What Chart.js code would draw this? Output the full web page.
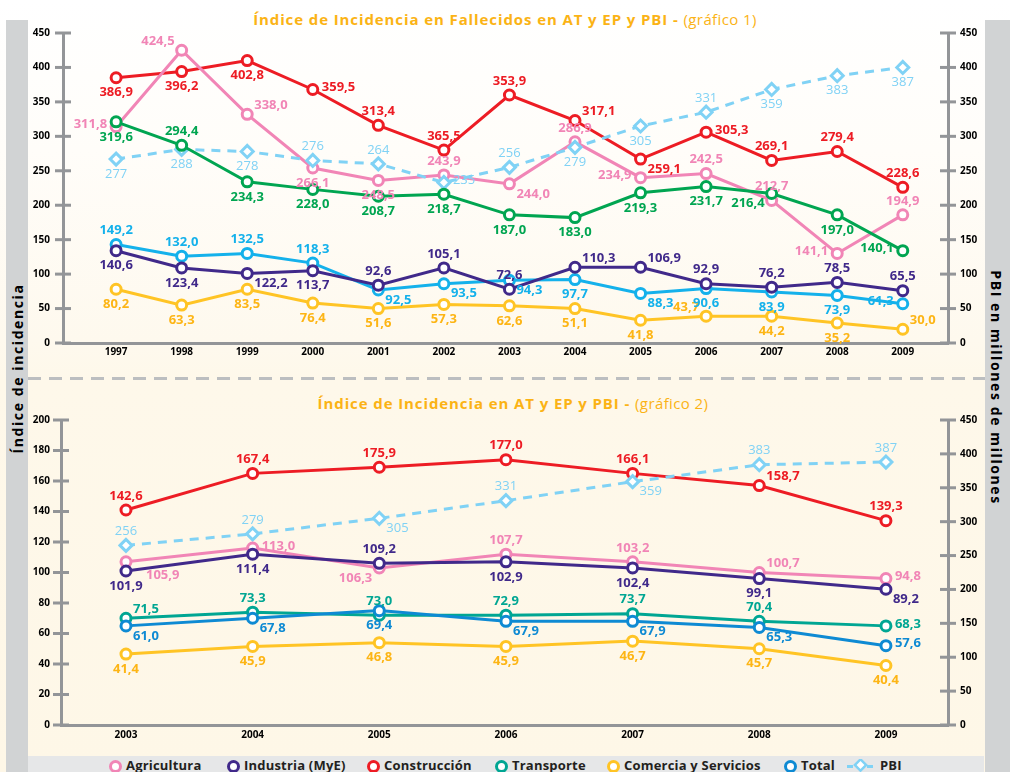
<!DOCTYPE html>
<html>
<head>
<meta charset="utf-8">
<script src="https://cdn.jsdelivr.net/npm/chart.js@4"></script>
<style>
  body { margin: 0; background: #fff; font-family: "Open Sans", sans-serif; }
  #wrap { position: relative; width: 1010px; height: 772px; overflow: hidden;
    background: linear-gradient(#ffffff 0px, #fffdf9 150px, #fef9ee 340px, #fef8ea 380px, #fef7e7 772px); }
  .band { position: absolute; top: 20px; bottom: 0; background: #d1d3d4; }
  .vlabel { position: absolute; white-space: nowrap; font-weight: 700; font-size: 14px;
    letter-spacing: 1.6px; color: #000; transform-origin: center; }
  .title { position: absolute; left: 0; width: 1010px; text-align: center; color: #fbb315;
    font-size: 15px; font-weight: 700; letter-spacing: 0.9px; white-space: nowrap; }
  .title span { font-weight: 400; letter-spacing: 0.4px; }
  #sep { position: absolute; left: 28px; width: 957px; top: 377px; height: 3px;
    background: repeating-linear-gradient(90deg, #bcbec0 0px, #bcbec0 13px, transparent 13px, transparent 21px); }
  #legend { position: absolute; left: 28px; width: 956px; top: 756px; height: 16px; background: #e6e7e8; }
  .li { position: absolute; top: 757px; font-size: 13px; font-weight: 700; color: #231f20;
    letter-spacing: 0.2px; line-height: 16px; white-space: nowrap; }
  .ring { position: absolute; top: 760px; width: 7px; height: 7px; border: 3px solid; border-radius: 50%; background: #fff; }
  canvas { position: absolute; left: 0; }
</style>
</head>
<body>
<div id="wrap">
  <div class="band" style="left:6px;width:22px"></div>
  <div class="band" style="left:985px;width:25px"></div>
  <div class="vlabel" id="vl">Índice de incidencia</div>
  <div class="vlabel" id="vr">PBI en millones de millones</div>
  <div class="title" style="top:9px">Índice de Incidencia en Fallecidos en AT y EP y PBI - <span>(gráfico 1)</span></div>
  <div id="sep"></div>
  <div class="title" style="top:393px;left:8px">Índice de Incidencia en AT y EP y PBI - <span>(gráfico 2)</span></div>
  <canvas id="top" width="1010" height="372" style="top:0"></canvas>
  <canvas id="bottom" width="1010" height="375" style="top:380px"></canvas>
  <div id="legend"></div>
</div>
<script>
// ---- data: gráfico 1 (fallecidos) ----
const yearsTop = [1997, 1998, 1999, 2000, 2001, 2002, 2003, 2004, 2005, 2006, 2007, 2008, 2009];
const ticksTopLeft = [0, 50, 100, 150, 200, 250, 300, 350, 400, 450];
const ticksTopRight = [0, 50, 100, 150, 200, 250, 300, 350, 400, 450];

const agriTop  = [314, 425, 332, 254, 236, 244, 231, 292, 240, 246, 207, 130, 186];
const indTop   = [134, 109, 101, 105, 84, 109, 78, 110, 110, 86, 81, 88, 76];
const consTop  = [385, 394, 410, 368, 316, 280, 360, 323, 267, 306, 265, 278, 226];
const transTop = [321, 287, 234, 223, 213, 216, 186, 182, 218, 227, 217, 186, 134];
const comTop   = [78, 55, 78, 58, 50, 56, 54, 50, 33, 39, 39, 29, 20];
const totalTop = [143, 126, 130, 116, 77, 86, 91, 92, 72, 79, 74, 69, 57];
const pbiTop   = [267, 281, 278, 265, 260, 233, 255, 284, 315, 335, 368, 388, 400];

// printed value labels (as they appear in the figure)
const agriTopTxt  = ['311,8','424,5','338,0','266,1','248,5','243,9','244,0','286,9','234,9','242,5','212,7','141,1','194,9'];
const indTopTxt   = ['140,6','123,4','122,2','113,7','92,6','105,1','72,6','110,3','106,9','92,9','76,2','78,5','65,5'];
const consTopTxt  = ['386,9','396,2','402,8','359,5','313,4','365,5','353,9','317,1','259,1','305,3','269,1','279,4','228,6'];
const transTopTxt = ['319,6','294,4','234,3','228,0','208,7','218,7','187,0','183,0','219,3','231,7','216,4','197,0','140,1'];
const comTopTxt   = ['80,2','63,3','83,5','76,4','51,6','57,3','62,6','51,1','41,8','43,7','44,2','35,2','30,0'];
const totalTopTxt = ['149,2','132,0','132,5','118,3','92,5','93,5','94,3','97,7','88,3','90,6','83,9','73,9','61,3'];
const pbiTopTxt   = ['277','288','278','276','264','235','256','279','305','331','359','383','387'];

// ---- data: gráfico 2 ----
const yearsBottom = [2003, 2004, 2005, 2006, 2007, 2008, 2009];
const ticksBottomLeft = [0, 20, 40, 60, 80, 100, 120, 140, 160, 180, 200];
const ticksBottomRight = [0, 50, 100, 150, 200, 250, 300, 350, 400, 450];

const agriBot  = [107, 116, 103, 112, 107, 100, 96];
const indBot   = [101, 112, 106, 107, 103, 96, 89];
const consBot  = [141, 165, 169, 174, 165, 157, 134];
const transBot = [70, 74, 72, 72, 73, 68, 65];
const comBot   = [46.5, 51.5, 54, 51.5, 55, 50, 39];
const totalBot = [65, 70, 75, 68, 68, 64, 52];
const pbiBot   = [265, 282, 305, 331, 359, 384, 388];

const agriBotTxt  = ['105,9','113,0','106,3','107,7','103,2','100,7','94,8'];
const indBotTxt   = ['101,9','111,4','109,2','102,9','102,4','99,1','89,2'];
const consBotTxt  = ['142,6','167,4','175,9','177,0','166,1','158,7','139,3'];
const transBotTxt = ['71,5','73,3','73,0','72,9','73,7','70,4','68,3'];
const comBotTxt   = ['41,4','45,9','46,8','45,9','46,7','45,7','40,4'];
const totalBotTxt = ['61,0','67,8','69,4','67,9','67,9','65,3','57,6'];
const pbiBotTxt   = ['256','279','305','331','359','383','387'];

// where each printed label sits around its point
const OFF = {
  T: [0, -14, 'center'], B: [0, 15, 'center'], L: [-9, -2, 'right'], R: [9, -2, 'left'],
  TR: [7, -9, 'left'], TL: [-7, -9, 'right'], BR: [7, 10, 'left'], BL: [-7, 10, 'right'],
  BRR: [20, 13, 'left']
};
const place = s => s.split(' ');

const AXIS = '#939598';
const FONT = '"Open Sans", sans-serif';
const C = {
  agri: '#f185b6', ind: '#40298a', cons: '#ed1c24', transTop: '#00a551', transBot: '#00a693',
  com: '#ffc425', comTxt: '#fdb515', totalTop: '#14b1eb', totalBot: '#0e8ad3', pbi: '#80d2f5'
};

const pts = (xs, ys) => xs.map((x, i) => ({ x: x, y: ys[i] }));

function line(years, vals, color, texts, pos, extra) {
  return Object.assign({
    data: pts(years, vals), borderColor: color, pointBorderColor: color,
    pointBackgroundColor: '#fff', borderWidth: 3, pointRadius: 5, pointBorderWidth: 3,
    tension: 0, clip: false, texts: texts, place: place(pos), textColor: color
  }, extra || {});
}

const valueLabels = {
  id: 'valueLabels',
  afterDatasetsDraw(chart) {
    const ctx = chart.ctx;
    chart.data.datasets.forEach((ds, di) => {
      if (!ds.texts) return;
      const meta = chart.getDatasetMeta(di);
      ctx.save();
      ctx.font = (ds.light ? '400 ' : '700 ') + '13px ' + FONT;
      ctx.fillStyle = ds.textColor;
      ctx.textBaseline = 'middle';
      meta.data.forEach((p, i) => {
        const o = OFF[ds.place[i]];
        ctx.textAlign = o[2];
        ctx.fillText(ds.texts[i], p.x + o[0], p.y + o[1]);
      });
      ctx.restore();
    });
  }
};

// tick stubs crossing the vertical axes
const crossTicks = {
  id: 'crossTicks',
  beforeDatasetsDraw(chart) {
    const ctx = chart.ctx, a = chart.chartArea;
    ctx.save();
    ctx.strokeStyle = AXIS;
    ctx.lineWidth = 3;
    ['y', 'y2'].forEach(id => {
      const s = chart.scales[id];
      const x = id === 'y' ? a.left : a.right;
      s.ticks.forEach(t => {
        const y = s.getPixelForValue(t.value);
        ctx.beginPath();
        ctx.moveTo(x - 8, y);
        ctx.lineTo(x + 8, y);
        ctx.stroke();
      });
    });
    ctx.restore();
  }
};

function makeChart(id, o) {
  const tickFont = { family: FONT, size: 10, weight: '700' };
  return new Chart(document.getElementById(id), {
    type: 'line',
    data: { datasets: o.datasets },
    options: {
      responsive: false,
      animation: false,
      layout: { padding: { top: o.padTop, left: 0, right: 0, bottom: 0 } },
      plugins: { legend: { display: false }, tooltip: { enabled: false } },
      scales: {
        x: {
          type: 'linear', min: o.xMin, max: o.xMax,
          grid: { display: false, drawTicks: false },
          border: { color: AXIS, width: 3 },
          ticks: { padding: o.xPad, color: '#000', font: { family: FONT, size: 10, weight: '700' },
                   callback: v => String(v) },
          afterBuildTicks: s => { s.ticks = o.years.map(v => ({ value: v })); },
          afterFit: s => { s.height = o.xH; }
        },
        y: {
          position: 'left', min: 0, max: o.yMax,
          grid: { display: false, drawTicks: false },
          border: { color: AXIS, width: 3 },
          ticks: { padding: o.yPad, color: '#000', font: tickFont },
          afterBuildTicks: s => { s.ticks = o.yTicks.map(v => ({ value: v })); },
          afterFit: s => { s.width = o.yW; }
        },
        y2: {
          position: 'right', min: 0, max: 450,
          grid: { display: false, drawTicks: false },
          border: { color: AXIS, width: 3 },
          ticks: { padding: 12, color: '#000', font: tickFont },
          afterBuildTicks: s => { s.ticks = o.y2Ticks.map(v => ({ value: v })); },
          afterFit: s => { s.width = o.y2W; }
        }
      }
    },
    plugins: [crossTicks, valueLabels]
  });
}

const pbiStyle = { yAxisID: 'y2', borderDash: [9, 7], pointStyle: 'rectRot', pointRadius: 6, light: true };

makeChart('top', {
  padTop: 33, xMin: 1996.19, xMax: 2009.69, xPad: 3, xH: 29, yW: 63, y2W: 62, yPad: 13, yMax: 450,
  years: yearsTop, yTicks: ticksTopLeft, y2Ticks: ticksTopRight,
  datasets: [
    line(yearsTop, comTop, C.com, comTopTxt, 'B B B B B B B B B TL B B TR', { textColor: C.comTxt }),
    line(yearsTop, indTop, C.ind, indTopTxt, 'B B BR B T T T TR TR T T T T'),
    line(yearsTop, totalTop, C.totalTop, totalTopTxt, 'T T T T BR BR BR B BR B B B L'),
    line(yearsTop, transTop, C.transTop, transTopTxt, 'B T B B B B B B B B BL B L'),
    line(yearsTop, pbiTop, C.pbi, pbiTopTxt, 'B B B T T R T B B T B B B', pbiStyle),
    line(yearsTop, agriTop, C.agri, agriTopTxt, 'L TL TR B B T BR T L T T L T'),
    line(yearsTop, consTop, C.cons, consTopTxt, 'B B B R T T T TR BR R T T T')
  ]
});

makeChart('bottom', {
  padTop: 40, xMin: 2002.487, xMax: 2009.49, xPad: 4, xH: 30, yW: 61, y2W: 62, yPad: 11, yMax: 200,
  years: yearsBottom, yTicks: ticksBottomLeft, y2Ticks: ticksBottomRight,
  datasets: [
    line(yearsBottom, comBot, C.com, comBotTxt, 'B B B B B B B', { textColor: C.comTxt }),
    line(yearsBottom, totalBot, C.totalBot, totalBotTxt, 'BR BR B BR BR BR R'),
    line(yearsBottom, transBot, C.transBot, transBotTxt, 'TR T T T T T R'),
    line(yearsBottom, indBot, C.ind, indBotTxt, 'B B T B B B BR'),
    line(yearsBottom, agriBot, C.agri, agriBotTxt, 'BRR R BL T T TR R'),
    line(yearsBottom, pbiBot, C.pbi, pbiBotTxt, 'T T BR T BR T T', pbiStyle),
    line(yearsBottom, consBot, C.cons, consBotTxt, 'T T T T T TR T')
  ]
});

// shared legend
const legendItems = [
  ['Agricultura', C.agri, 115], ['Industria (MyE)', C.ind, 233], ['Construcción', C.cons, 373],
  ['Transporte', C.transBot, 501], ['Comercia y Servicios', C.com, 613], ['Total', C.totalBot, 790]
];
const wrap = document.getElementById('wrap');
legendItems.forEach(([name, col, x]) => {
  const r = document.createElement('div');
  r.className = 'ring';
  r.style.left = (x - 6) + 'px';
  r.style.borderColor = col;
  wrap.appendChild(r);
  const t = document.createElement('div');
  t.className = 'li';
  t.style.left = (x + 11) + 'px';
  t.textContent = name;
  wrap.appendChild(t);
});
const pbiIcon = document.createElement('div');
pbiIcon.style.cssText = 'position:absolute;left:846px;top:757px;width:32px;height:15px';
pbiIcon.innerHTML = '<svg width="32" height="15"><line x1="1" y1="7.5" x2="31" y2="7.5" stroke="' + C.pbi +
  '" stroke-width="3" stroke-dasharray="6,4"/><rect x="10.5" y="2" width="8" height="8" fill="#fff" stroke="' + C.pbi +
  '" stroke-width="2.5" transform="rotate(45 14.5 6)" /></svg>';
wrap.appendChild(pbiIcon);
const pt = document.createElement('div');
pt.className = 'li';
pt.style.left = '880px';
pt.textContent = 'PBI';
wrap.appendChild(pt);

// rotated side captions
const vl = document.getElementById('vl');
vl.style.left = (17 - vl.offsetWidth / 2) + 'px';
vl.style.top = (368 - vl.offsetHeight / 2) + 'px';
vl.style.transform = 'rotate(-90deg)';
const vr = document.getElementById('vr');
vr.style.left = (996 - vr.offsetWidth / 2) + 'px';
vr.style.top = (387 - vr.offsetHeight / 2) + 'px';
vr.style.transform = 'rotate(90deg)';
</script>
</body>
</html>
